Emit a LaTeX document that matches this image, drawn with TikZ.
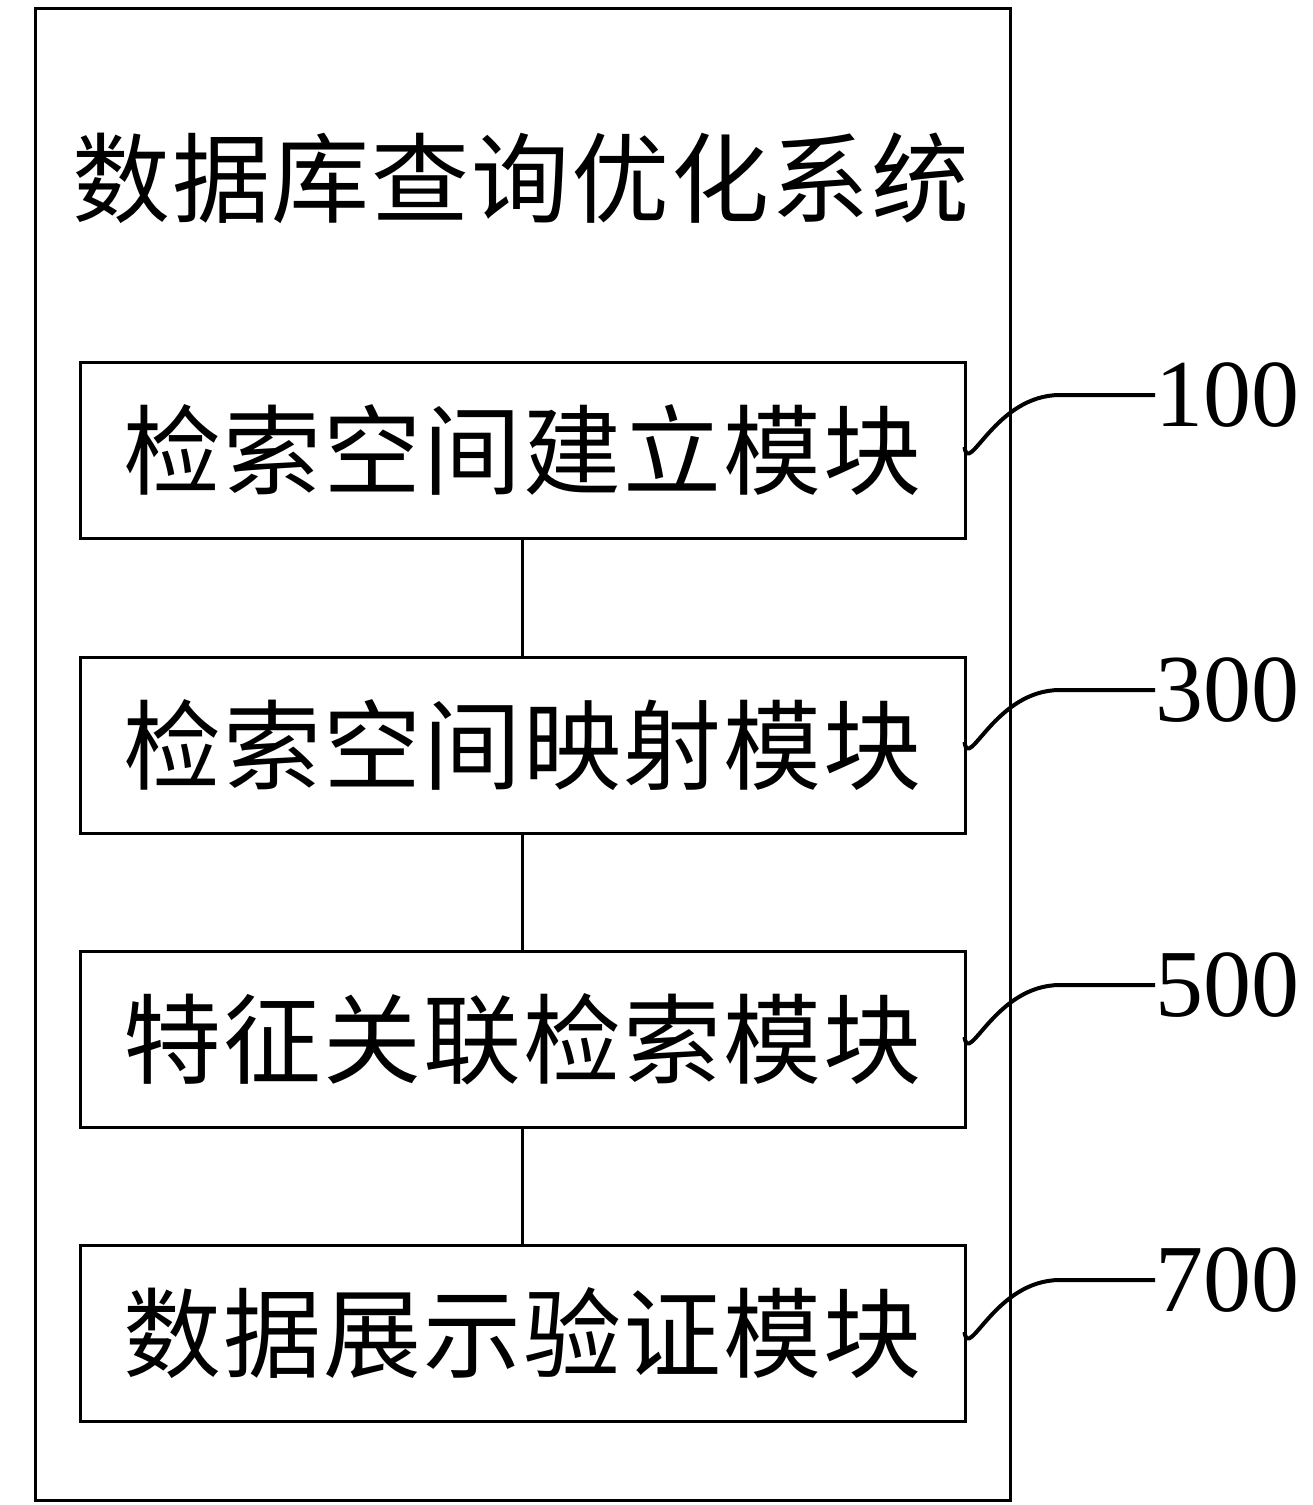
\documentclass[tikz,border=0pt]{standalone}
\usepackage{fontspec}
\setmainfont{Liberation Serif}
\newfontfamily\cjk[LetterSpace=2]{Noto Sans CJK SC}
\begin{document}
\begin{tikzpicture}[x=1pt,y=-1pt,
  modbox/.style={draw, line width=3pt, minimum width=885pt, minimum height=176pt, inner sep=0pt, font=\cjk\fontsize{98}{100}\selectfont},
  link/.style={line width=3pt},
  leader/.style={line width=4pt},
  refnum/.style={font=\fontsize{96}{100}\selectfont, anchor=west, inner sep=0pt}]
\useasboundingbox (0,0) rectangle (1313,1505);
\fill[white] (0,0) rectangle (1313,1505);
\node[draw, line width=3pt, minimum width=975pt, minimum height=1492pt, inner sep=0pt] (outer) at (522.5,754) {};
\node[font=\cjk\fontsize{98}{100}\selectfont, inner sep=0pt] (title) at (521,178) {数据库查询优化系统};
\node[modbox] (m1) at (522.5,450) {\raisebox{5pt}{检索空间建立模块}};
\node[modbox] (m2) at (522.5,745) {\raisebox{5pt}{检索空间映射模块}};
\node[modbox] (m3) at (522.5,1039.5) {\raisebox{5pt}{特征关联检索模块}};
\node[modbox] (m4) at (522.5,1333.5) {\raisebox{5pt}{数据展示验证模块}};
\draw[link] (m1.south) -- (m2.north);
\draw[link] (m2.south) -- (m3.north);
\draw[link] (m3.south) -- (m4.north);
\foreach \n/\lab/\y in {1/100/395, 2/300/690, 3/500/985, 4/700/1280} {
  \node[refnum] (r\n) at (1155,\y) {\lab};
  \coordinate (s\n) at ([yshift=-52pt]r\n.west);
  \draw[leader] ([xshift=-2pt]m\n.east |- s\n) .. controls ([xshift=2pt,yshift=-30pt]m\n.east |- s\n) and (995,\y) .. (1060,\y) -- (r\n.west);
}
\end{tikzpicture}
\end{document}
